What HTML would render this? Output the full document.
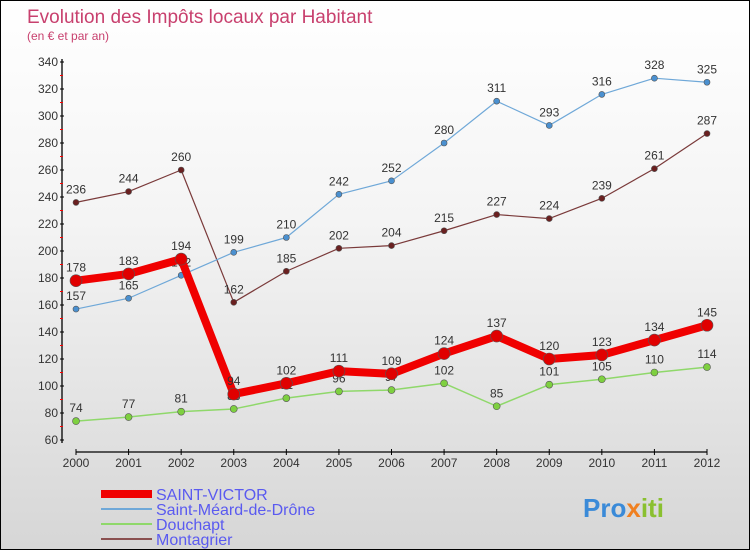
<!DOCTYPE html>
<html><head><meta charset="utf-8"><style>
body{margin:0}
#c{width:750px;height:550px;position:relative;box-sizing:border-box;border:1px solid #000;background:linear-gradient(#ffffff,#f4f4f4 40%,#d6d6d6);font-family:"Liberation Sans",sans-serif;overflow:hidden}
svg text{font-family:"Liberation Sans",sans-serif}
</style></head><body>
<div id="c">
<svg id="s" width="750" height="550">
<text x="26" y="22" font-size="19" fill="#c8406e">Evolution des Impôts locaux par Habitant</text>
<text x="26" y="39" font-size="12" fill="#c8406e">(en € et par an)</text>
</svg>
</div>
<script>
const years=["2000","2001","2002","2003","2004","2005","2006","2007","2008","2009","2010","2011","2012"];
const yTicks=[60,80,100,120,140,160,180,200,220,240,260,280,300,320,340];
const saintVictor=[178,183,194,94,102,111,109,124,137,120,123,134,145];
const saintMeard=[157,165,182,199,210,242,252,280,311,293,316,328,325];
const douchapt=[74,77,81,83,91,96,97,102,85,101,105,110,114];
const montagrier=[236,244,260,162,185,202,204,215,227,224,239,261,287];
const NS="http://www.w3.org/2000/svg";
const s=document.getElementById('s');
const X=i=>75+i*(706-75)/12;
const Y=v=>439-(v-60)*(439-61)/280;
function mk(t,a,p){const e=document.createElementNS(NS,t);for(const k in a)e.setAttribute(k,a[k]);(p||s).appendChild(e);return e;}
// axes
const ax=mk('g',{});


mk('line',{x1:61,y1:58,x2:61,y2:442,stroke:'#000','stroke-width':1.3},ax);
mk('line',{x1:75,y1:451,x2:706,y2:451,stroke:'#000','stroke-width':1.3},ax);
yTicks.forEach((v,i)=>{
 mk('line',{x1:59,y1:Y(v),x2:63,y2:Y(v),stroke:'#000'},ax);
 if(i<yTicks.length-1) mk('line',{x1:59,y1:Y(v+10),x2:62,y2:Y(v+10),stroke:'#f00'},ax);
 const t=mk('text',{x:57,y:Y(v)+4,'font-size':12,'text-anchor':'end',fill:'#333'},ax);
 
 
 t.textContent=v;
});
years.forEach((y,i)=>{
 mk('line',{x1:X(i),y1:448,x2:X(i),y2:454,stroke:'#000'},ax);
 const t=mk('text',{x:X(i),y:466,'font-size':12,'text-anchor':'middle',fill:'#333'},ax);
 
 
 t.textContent=y;
});
function series(d,name,col,w,r,dot){
 const g=mk('g',{});
 
 
 mk('polyline',{points:d.map((v,i)=>X(i)+','+Y(v)).join(' '),fill:'none',stroke:col,'stroke-width':w,'stroke-linejoin':'round'},g);
 d.forEach((v,i)=>{
  const c=mk('circle',{cx:X(i),cy:Y(v),r:r,fill:dot,stroke:'#555','stroke-width':0.6},g);
  
  
  const t=mk('text',{x:X(i),y:Y(v)-9,'font-size':12,'text-anchor':'middle',fill:'#333'},g);
  
  
  t.textContent=v;
 });
}
series(douchapt,'series-douchapt','#8fd86a',1.5,3.5,'#7ed040');
series(montagrier,'series-montagrier','#7a3a3a',1.2,3,'#6a2020');
series(saintMeard,'series-saint-meard','#6fa8d8',1.2,3,'#4a90d0');
series(saintVictor,'series-saint-victor','#f00000',8,6,'#e00000');
// legend
const lg=[['SAINT-VICTOR','#f00000',8],['Saint-Méard-de-Drône','#6fa8d8',2],['Douchapt','#8fd86a',2],['Montagrier','#8a5050',2]];
lg.forEach((l,i)=>{
 const g=mk('g',{});
 
 
 const y=493+i*15;
 mk('line',{x1:100,y1:y,x2:151,y2:y,stroke:l[1],'stroke-width':l[2]},g);
 const t=mk('text',{x:155,y:y+6,'font-size':16,fill:'#5a5af0'},g);
 t.textContent=l[0];
});
const lo=mk('text',{x:582,y:516,'font-size':26,'font-weight':'bold',fill:'#3a8ad8'});


lo.innerHTML='Pro<tspan fill="#f08020">x</tspan><tspan fill="#8ac030">iti</tspan>';
</script>
</body></html>
